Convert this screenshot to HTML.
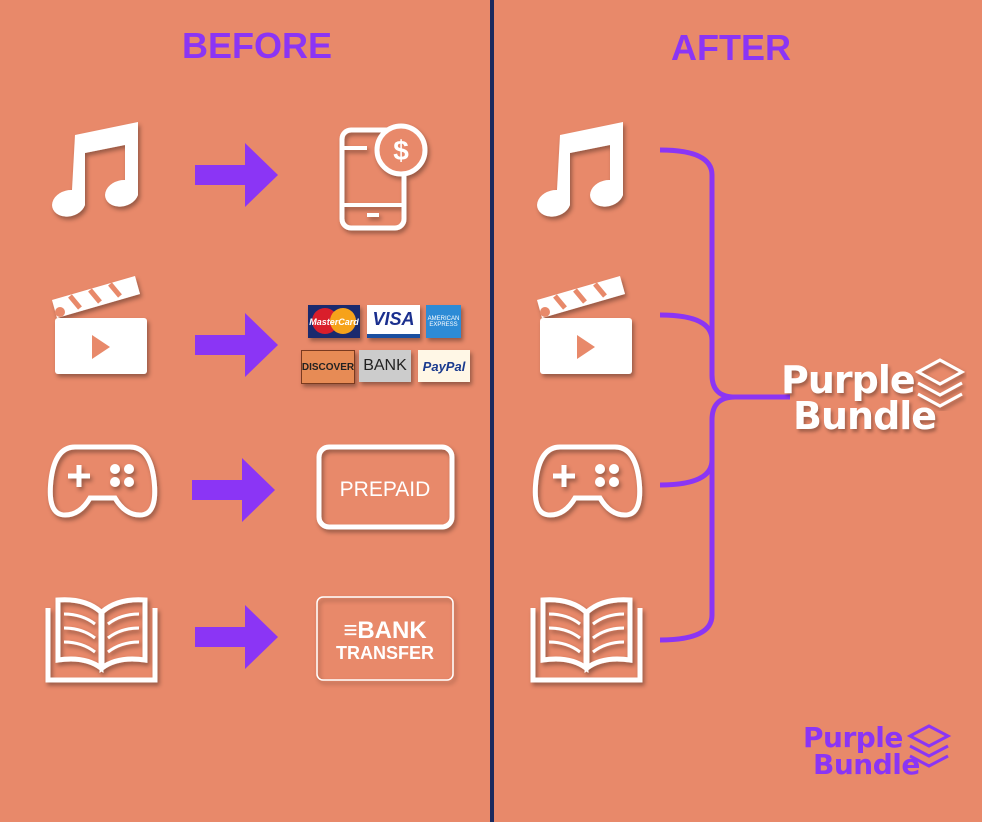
<!DOCTYPE html>
<html><head><meta charset="utf-8"><style>
html,body{margin:0;padding:0}
body{width:982px;height:822px;background:#E8896A;position:relative;overflow:hidden;font-family:"Liberation Sans",sans-serif}
.t{position:absolute;color:#8B35F5;font-weight:bold;font-size:36px}
.card{position:absolute;box-shadow:2px 3px 4px rgba(0,0,0,.35);font-family:"Liberation Sans",sans-serif;display:flex;align-items:center;justify-content:center}
.pb{position:absolute;font-weight:bold;line-height:.95;font-family:"DejaVu Sans",sans-serif}
</style></head><body>
<div class="t" style="left:182px;top:25px">BEFORE</div>
<div class="t" style="left:671px;top:27px">AFTER</div>
<div style="position:absolute;left:490px;top:0;width:4px;height:822px;background:#1B2A5E"></div>

<svg width="982" height="822" style="position:absolute;left:0;top:0" fill="none">
<defs>
<filter id="s"><feDropShadow dx="2" dy="3" stdDeviation="2" flood-opacity=".35"/></filter>
<g id="music" fill="#fff"><path d="M75 135 L138 122 L138 195 A17 13 -15 1 1 125 180 L125 145 L85 153 L85 205 A17 13 -15 1 1 72 190 Z"/></g>
<g id="clap"><rect x="55" y="318" width="92" height="56" rx="3" fill="#fff"/><path d="M52 300 L135 276 L140 294 L57 318 Z" fill="#fff"/><path d="M70 296 l10 12 M90 290 l10 12 M110 284 l10 12" stroke="#E8896A" stroke-width="5"/><circle cx="60" cy="312" r="5" fill="#E8896A"/><path d="M92 335 L110 347 L92 359 Z" fill="#E8896A"/></g>
<g id="pad"><path d="M75 447 L130 447 Q150 447 154 480 Q158 515 140 515 Q125 515 115 498 L90 498 Q80 515 65 515 Q47 515 51 480 Q55 447 75 447 Z" stroke="#fff" stroke-width="5"/><path d="M68 476 h22 M79 465 v22" stroke="#fff" stroke-width="5"/><g fill="#fff"><circle cx="115" cy="469" r="5"/><circle cx="129" cy="469" r="5"/><circle cx="115" cy="482" r="5"/><circle cx="129" cy="482" r="5"/></g></g>
<g id="book" stroke="#fff" stroke-width="5"><path d="M48 608 L48 680 L155 680 L155 608"/><path d="M58 600 Q85 598 101 612 L101 668 Q85 656 58 660 Z"/><path d="M145 600 Q118 598 102 612 L102 668 Q118 656 145 660 Z"/><path d="M64 614 Q82 614 95 624 M64 628 Q82 628 95 638 M64 642 Q82 642 95 652 M139 614 Q121 614 108 624 M139 628 Q121 628 108 638 M139 642 Q121 642 108 652" stroke-width="3"/></g>
<g id="arr" fill="#8B35F5"><path d="M195 165 h50 v-22 l33 32 l-33 32 v-22 h-50 Z"/></g>
</defs>
<g filter="url(#s)">
<use href="#music"/><use href="#clap"/><use href="#pad"/><use href="#book"/>
<g transform="translate(485,0)"><use href="#music"/><use href="#clap"/><use href="#pad"/><use href="#book"/></g>
<rect x="342" y="130" width="62" height="98" rx="9" stroke="#fff" stroke-width="5"/>
<path d="M342 148 h25 M342 205 h62" stroke="#fff" stroke-width="4"/>
<rect x="367" y="213" width="12" height="4" fill="#fff"/>
<circle cx="401" cy="150" r="24" fill="#E8896A" stroke="#fff" stroke-width="5"/>
<text x="401" y="160" fill="#fff" font-size="28" font-weight="bold" text-anchor="middle" font-family="Liberation Sans">$</text>
<rect x="319" y="447" width="133" height="80" rx="10" stroke="#fff" stroke-width="5"/>
<rect x="317" y="597" width="136" height="83" rx="6" stroke="#fff" stroke-width="1.5"/>
</g>
<use href="#arr"/><use href="#arr" transform="translate(0,170)"/><use href="#arr" transform="translate(-3,315)"/><use href="#arr" transform="translate(0,462)"/>
<path d="M660 150 Q712 150 712 175 L712 375 Q712 397 735 397 L790 397 M735 397 Q712 397 712 420 L712 615 Q712 640 660 640 M660 315 Q712 315 712 340 M660 485 Q712 485 712 460" stroke="#8B35F5" stroke-width="5"/>
<text x="385" y="496" fill="#fff" font-size="21" text-anchor="middle" font-family="Liberation Sans">PREPAID</text>
<text x="385" y="638" fill="#fff" font-size="24" font-weight="bold" text-anchor="middle" font-family="Liberation Sans">≡BANK</text>
<text x="385" y="659" fill="#fff" font-size="18" font-weight="bold" text-anchor="middle" font-family="Liberation Sans">TRANSFER</text>
<g stroke="#fff" stroke-width="3" filter="url(#s)"><path d="M918 372 l22 -12 l22 12 l-22 12 Z M918 383 l22 12 l22 -12 M918 394 l22 12 l22 -12"/></g>
<g stroke="#8B35F5" stroke-width="3"><path d="M910 736 l19 -10 l19 10 l-19 10 Z M910 746 l19 10 l19 -10 M910 756 l19 10 l19 -10"/></g>
</svg>

<div class="card" style="left:308px;top:305px;width:52px;height:33px;background:#1a2a6e"><div style="position:absolute;left:4px;top:3px;width:26px;height:26px;border-radius:50%;background:#d91e2b"></div><div style="position:absolute;left:22px;top:3px;width:26px;height:26px;border-radius:50%;background:#f6a21a"></div><span style="position:relative;color:#fff;font-size:9px;font-weight:bold;font-style:italic">MasterCard</span></div>
<div class="card" style="left:367px;top:305px;width:53px;height:33px;background:#fff;color:#1a2f8e;font-weight:bold;font-style:italic;font-size:18px;border-bottom:4px solid #1a4fa0;box-sizing:border-box">VISA</div>
<div class="card" style="left:426px;top:305px;width:35px;height:33px;background:#2d8bd6;color:#fff;font-size:6px;text-align:center">AMERICAN EXPRESS</div>
<div class="card" style="left:301px;top:350px;width:52px;height:32px;background:#e78b55;border:1px solid #7a3a1f;font-size:10px;font-weight:bold;color:#222">DISCOVER</div>
<div class="card" style="left:359px;top:350px;width:52px;height:32px;background:#ccc;color:#222;font-size:16px">BANK</div>
<div class="card" style="left:418px;top:350px;width:52px;height:32px;background:#fff7e6;color:#1a3a8e;font-size:13px;font-weight:bold;font-style:italic">PayPal</div>

<div class="pb" style="left:781px;top:362px;font-size:38px;letter-spacing:-1px;color:#fff;text-shadow:2px 3px 3px rgba(0,0,0,.3)">Purple<br><span style="margin-left:12px">Bundle</span></div>
<div class="pb" style="left:803px;top:725px;font-size:28px;letter-spacing:-.5px;color:#8B35F5">Purple<br><span style="margin-left:10px">Bundle</span></div>
</body></html>
